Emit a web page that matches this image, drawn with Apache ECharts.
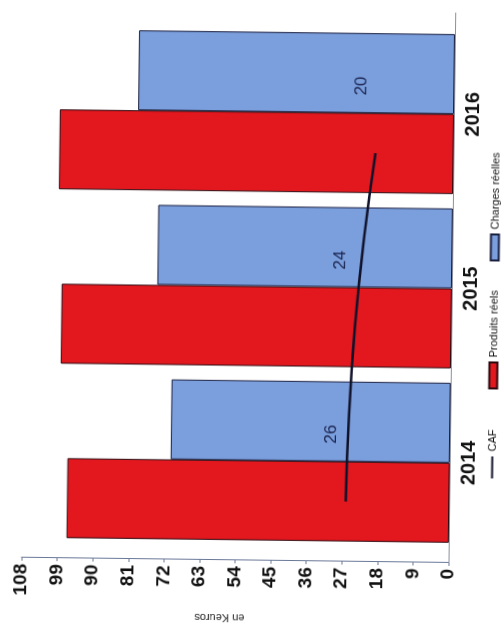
<!DOCTYPE html>
<html>
<head>
<meta charset="utf-8">
<script src="https://cdn.jsdelivr.net/npm/echarts@6/dist/echarts.min.js"></script>
<style>
  html, body { margin: 0; padding: 0; width: 502px; height: 631px; overflow: hidden; background: #ffffff; }
  #chart {
    position: absolute; width: 631px; height: 502px;
    left: -64.5px; top: 64.5px;
    transform-origin: 50% 50%;
    transform: rotate(-89.3deg);
  }
</style>
</head>
<body>
<div id="chart"></div>
<script>
// ---- data ----
const years = ['2014', '2015', '2016'];
const produitsReels = [96.7, 98.7, 99.7];
const chargesReelles = [70.6, 74.5, 79.9];
const caf = [26.2, 24.4, 19.7];
const valueMin = 0, valueMax = 108, valueStep = 9;

// ---- layout constants ----
const FONT = "'Liberation Sans', Arial, sans-serif";
const barW = 80;
const gridLeft = 84, gridRight = 24, gridTop = 24, gridBottom = 51;
const bandPx = (631 - gridLeft - gridRight) / years.length;
const redShift = (barW / 2) / bandPx; // line points sit on the red bars' centres

const chart = echarts.init(document.getElementById('chart'), null, { renderer: 'canvas' });

chart.setOption({
  animation: false,
  backgroundColor: '#ffffff',
  grid: [
    { left: 67, right: 10, top: gridTop, bottom: gridBottom },
    { left: gridLeft, right: gridRight, top: gridTop, bottom: gridBottom }
  ],
  legend: [
    { data: [{ name: 'CAF', icon: 'rect' }], left: 151, top: 483, itemWidth: 22, itemHeight: 2,
      textStyle: { fontFamily: FONT, fontSize: 11, color: '#111' } },
    { data: [{ name: 'Produits réels', icon: 'rect' }], left: 240, top: 483, itemWidth: 26, itemHeight: 8,
      textStyle: { fontFamily: FONT, fontSize: 11, color: '#111' } },
    { data: [{ name: 'Charges réelles', icon: 'rect' }], left: 368, top: 483, itemWidth: 26, itemHeight: 8,
      textStyle: { fontFamily: FONT, fontSize: 11, color: '#111' } }
  ],
  xAxis: [
    { gridIndex: 0, type: 'value', min: 0, max: 1, show: true,
      axisLine: { show: true, onZero: false, lineStyle: { color: '#8a8f9c', width: 1 } },
      axisTick: { show: false }, axisLabel: { show: false }, splitLine: { show: false } },
    { gridIndex: 1, type: 'category', data: years,
      axisLine: { show: false }, axisTick: { show: false }, splitLine: { show: false },
      axisLabel: { fontFamily: FONT, fontSize: 20, fontWeight: 'bold', color: '#111', margin: 9 } },
    { gridIndex: 1, type: 'value', min: -0.5, max: years.length - 0.5, show: false }
  ],
  yAxis: [
    { gridIndex: 0, type: 'value', min: valueMin, max: valueMax, interval: valueStep,
      axisLine: { show: true, lineStyle: { color: '#6a7898', width: 1 } },
      axisTick: { show: true, length: 3, lineStyle: { color: '#6a7898' } },
      splitLine: { show: false },
      axisLabel: { fontFamily: FONT, fontSize: 19, fontWeight: 'bold', color: '#111', margin: 6 },
      name: 'en Keuros', nameLocation: 'middle', nameGap: 52, nameRotate: 90,
      nameTextStyle: { fontFamily: FONT, fontSize: 11, color: '#222', padding: [0, 0, 0, 30] } },
    { gridIndex: 1, type: 'value', min: valueMin, max: valueMax, interval: valueStep, show: false }
  ],
  series: [
    { name: 'Produits réels', type: 'bar', xAxisIndex: 1, yAxisIndex: 1,
      data: produitsReels, barWidth: barW, barGap: '0%',
      itemStyle: { color: '#e3171e', borderColor: '#2a0a10', borderWidth: 1 } },
    { name: 'Charges réelles', type: 'bar', xAxisIndex: 1, yAxisIndex: 1,
      data: chargesReelles, barWidth: barW, barGap: '0%',
      itemStyle: { color: '#7b9fdd', borderColor: '#1a1f40', borderWidth: 1 } },
    { name: 'CAF', type: 'line', xAxisIndex: 2, yAxisIndex: 1, smooth: true,
      data: caf.map((v, i) => [i - redShift, v]),
      showSymbol: true, symbol: 'circle', symbolSize: 0,
      lineStyle: { color: '#10122a', width: 2.5 },
      itemStyle: { color: '#10122a' },
      label: { show: true, position: 'inside', offset: [67, -15],
        formatter: p => Math.round(p.value[1]).toString(),
        fontFamily: FONT, fontSize: 17, color: '#1b2550' },
      z: 5 }
  ]
});
</script>
</body>
</html>
